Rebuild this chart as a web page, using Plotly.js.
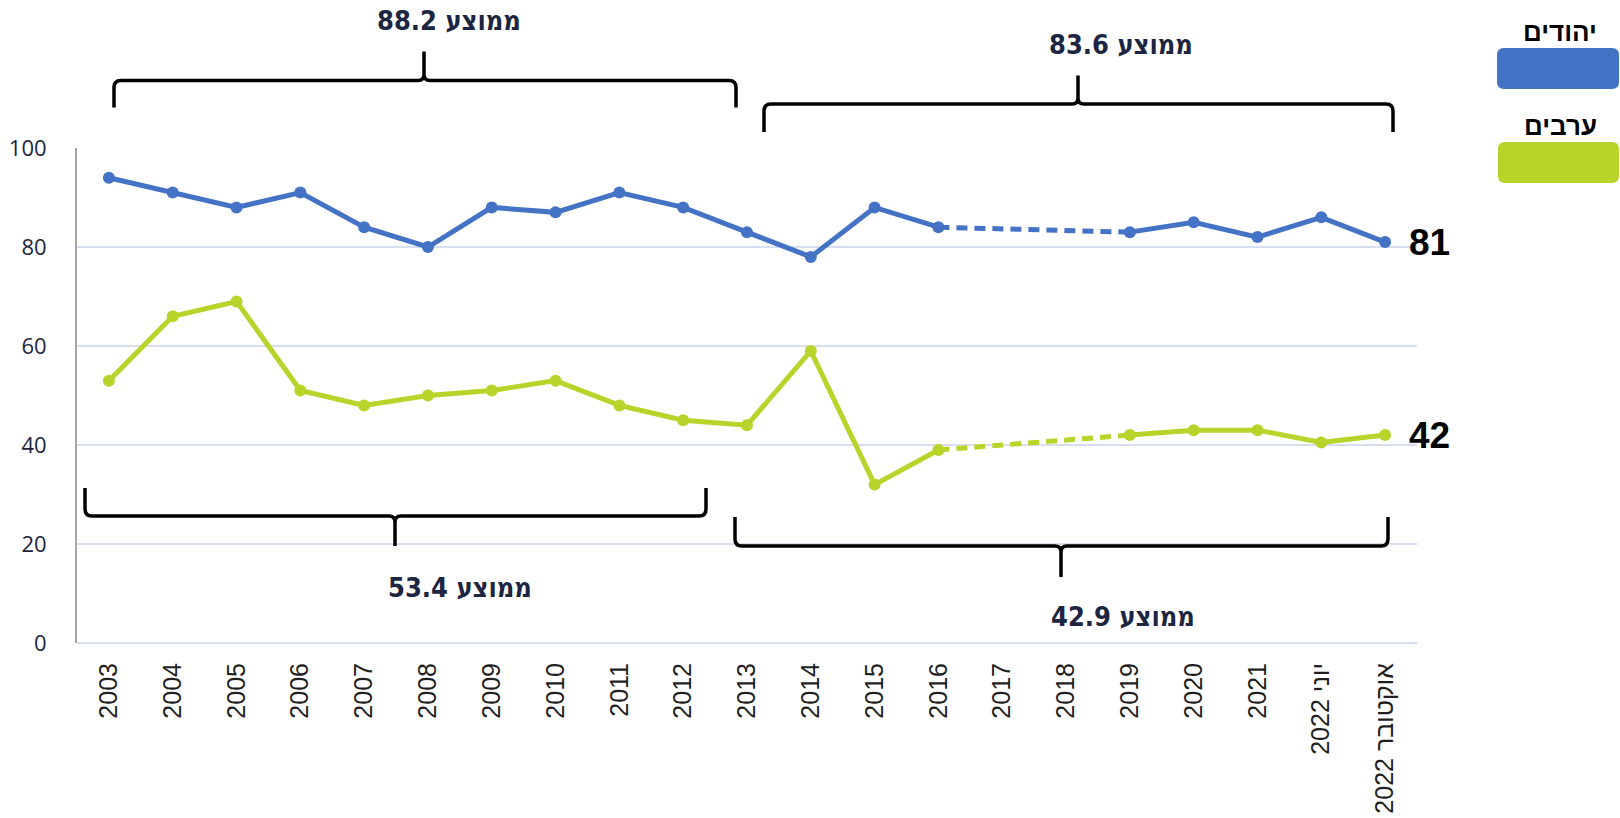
<!DOCTYPE html>
<html>
<head>
<meta charset="utf-8">
<script src="https://cdn.plot.ly/plotly-3.0.1.min.js"></script>
<style>
  html, body { margin: 0; padding: 0; background: #fff; }
  #chart { width: 1620px; height: 818px; }
</style>
</head>
<body>
<div id="chart"></div>
<script>
// ---- data ----
const categories = ['2003','2004','2005','2006','2007','2008','2009','2010','2011','2012',
  '2013','2014','2015','2016','2017','2018','2019','2020','2021','יוני 2022','אוקטובר 2022'];
const jews   = [94, 91, 88, 91, 84, 80, 88, 87, 91, 88, 83, 78, 88, 84, null, null, 83, 85, 82, 86, 81];
const arabs  = [53, 66, 69, 51, 48, 50, 51, 53, 48, 45, 44, 59, 32, 39, null, null, 42, 43, 43, 40.5, 42];
// gap bridge (2016 -> 2019), drawn dashed
const jewsGap  = [null, null, null, null, null, null, null, null, null, null, null, null, null, 84, null, null, 83, null, null, null, null];
const arabsGap = [null, null, null, null, null, null, null, null, null, null, null, null, null, 39, null, null, 42, null, null, null, null];
const seriesNames = ['יהודים', 'ערבים'];
const yTicks = [0, 20, 40, 60, 80, 100];
const averageLabels = ['ממוצע 88.2', 'ממוצע 83.6', 'ממוצע 53.4', 'ממוצע 42.9'];
const lastLabels = ['81', '42'];

// ---- style ----
const BLUE = '#4472C4';
const GREEN = '#B8D42A';
const NAVY = '#1c2541';
const M = {l: 77, r: 203, t: 148, b: 175};
const W = 1620, H = 818;
const PW = W - M.l - M.r, PH = H - M.t - M.b;
const px = x => (x - M.l) / PW;
const py = y => (H - M.b - y) / PH;
const f = v => v.toFixed(5);

function brace(xl, xr, xm, yLine, yEnd, yTip) {
  const s = yEnd > yLine ? 1 : -1;
  const r = 7, c = 6;
  const P = (x, y) => f(px(x)) + ',' + f(py(y));
  return 'M' + P(xl, yEnd) +
    ' L' + P(xl, yLine + s * r) +
    ' Q' + P(xl, yLine) + ' ' + P(xl + r, yLine) +
    ' L' + P(xm - c, yLine) +
    ' Q' + P(xm, yLine) + ' ' + P(xm, yLine - s * c) +
    ' L' + P(xm, yTip) +
    ' L' + P(xm, yLine - s * c) +
    ' Q' + P(xm, yLine) + ' ' + P(xm + c, yLine) +
    ' L' + P(xr - r, yLine) +
    ' Q' + P(xr, yLine) + ' ' + P(xr, yLine + s * r) +
    ' L' + P(xr, yEnd);
}
function rrect(x0, y0, x1, y1, r) {
  const P = (x, y) => f(px(x)) + ',' + f(py(y));
  return 'M' + P(x0 + r, y0) + ' L' + P(x1 - r, y0) + ' Q' + P(x1, y0) + ' ' + P(x1, y0 + r) +
    ' L' + P(x1, y1 - r) + ' Q' + P(x1, y1) + ' ' + P(x1 - r, y1) +
    ' L' + P(x0 + r, y1) + ' Q' + P(x0, y1) + ' ' + P(x0, y1 - r) +
    ' L' + P(x0, y0 + r) + ' Q' + P(x0, y0) + ' ' + P(x0 + r, y0) + ' Z';
}

const traces = [
  {x: categories, y: jewsGap, mode: 'lines', connectgaps: true, hoverinfo: 'skip',
   line: {color: BLUE, width: 5, dash: '11px,7px'}, showlegend: false},
  {x: categories, y: arabsGap, mode: 'lines', connectgaps: true, hoverinfo: 'skip',
   line: {color: GREEN, width: 5, dash: '11px,7px'}, showlegend: false},
  {x: categories, y: jews, name: seriesNames[0], mode: 'lines+markers', connectgaps: false,
   line: {color: BLUE, width: 5}, marker: {color: BLUE, size: 12}, cliponaxis: false},
  {x: categories, y: arabs, name: seriesNames[1], mode: 'lines+markers', connectgaps: false,
   line: {color: GREEN, width: 5}, marker: {color: GREEN, size: 12}, cliponaxis: false}
];

const avgFont = {family: 'DejaVu Sans Condensed, Liberation Sans Narrow, Liberation Sans, sans-serif', size: 27, color: NAVY, weight: 'bold'};
const lastIdx = categories.length - 1;

const layout = {
  width: W, height: H,
  margin: M,
  paper_bgcolor: '#fff', plot_bgcolor: '#fff',
  showlegend: false,
  xaxis: {
    type: 'category', categoryarray: categories, categoryorder: 'array',
    range: [-0.5, categories.length - 0.5],
    tickangle: -90, ticks: '', showgrid: false, zeroline: false, showline: false,
    tickfont: {family: 'Liberation Sans, Arial, sans-serif', size: 25, color: '#1f1f1f'},
    ticklabelstandoff: 14, automargin: false
  },
  yaxis: {
    range: [0, 100], tickvals: yTicks, ticktext: yTicks.map(String),
    showgrid: true, gridcolor: '#D7DEF0', gridwidth: 1.6,
    zeroline: true, zerolinecolor: '#D7DEF0', zerolinewidth: 1.6,
    showline: true, linecolor: '#A6A6A6', linewidth: 2, ticks: '',
    tickfont: {family: 'Open Sans, Liberation Sans, sans-serif', size: 22, color: NAVY},
    ticklabelstandoff: 24, automargin: false
  },
  shapes: [
    {type: 'path', xref: 'paper', yref: 'paper', path: brace(114, 736, 424, 80.5, 107.5, 51.5), line: {color: '#000', width: 3.5}},
    {type: 'path', xref: 'paper', yref: 'paper', path: brace(764, 1393, 1078, 104, 132, 75.5), line: {color: '#000', width: 3.5}},
    {type: 'path', xref: 'paper', yref: 'paper', path: brace(85, 706, 395, 516, 488, 546), line: {color: '#000', width: 3.5}},
    {type: 'path', xref: 'paper', yref: 'paper', path: brace(735, 1388, 1061, 546, 517, 577), line: {color: '#000', width: 3.5}},
    {type: 'path', xref: 'paper', yref: 'paper', path: rrect(1497, 48, 1619, 89, 7), fillcolor: BLUE, line: {width: 0}},
    {type: 'path', xref: 'paper', yref: 'paper', path: rrect(1498, 142, 1619, 183, 7), fillcolor: GREEN, line: {width: 0}}
  ],
  annotations: [
    {xref: 'paper', yref: 'paper', x: px(449), y: py(21), text: averageLabels[0], showarrow: false, font: avgFont, xanchor: 'center', yanchor: 'middle'},
    {xref: 'paper', yref: 'paper', x: px(1121), y: py(44.5), text: averageLabels[1], showarrow: false, font: avgFont, xanchor: 'center', yanchor: 'middle'},
    {xref: 'paper', yref: 'paper', x: px(460), y: py(587), text: averageLabels[2], showarrow: false, font: avgFont, xanchor: 'center', yanchor: 'middle'},
    {xref: 'paper', yref: 'paper', x: px(1123), y: py(616), text: averageLabels[3], showarrow: false, font: avgFont, xanchor: 'center', yanchor: 'middle'},
    {xref: 'x', yref: 'y', x: categories[lastIdx], y: jews[lastIdx], text: lastLabels[0], showarrow: false, xanchor: 'left', yanchor: 'middle', xshift: 22,
     font: {family: 'Liberation Sans, Arial, sans-serif', size: 37, color: '#000', weight: 'bold'}},
    {xref: 'x', yref: 'y', x: categories[lastIdx], y: arabs[lastIdx], text: lastLabels[1], showarrow: false, xanchor: 'left', yanchor: 'middle', xshift: 22,
     font: {family: 'Liberation Sans, Arial, sans-serif', size: 37, color: '#000', weight: 'bold'}},
    {xref: 'paper', yref: 'paper', x: px(1560), y: py(32), text: seriesNames[0], showarrow: false, xanchor: 'center', yanchor: 'middle',
     font: {family: 'Liberation Sans, Arial, sans-serif', size: 26, color: '#000', weight: 'bold'}},
    {xref: 'paper', yref: 'paper', x: px(1560), y: py(126), text: seriesNames[1], showarrow: false, xanchor: 'center', yanchor: 'middle',
     font: {family: 'Liberation Sans, Arial, sans-serif', size: 26, color: '#000', weight: 'bold'}}
  ]
};

Plotly.newPlot('chart', traces, layout, {displayModeBar: false, staticPlot: true});
</script>
</body>
</html>
